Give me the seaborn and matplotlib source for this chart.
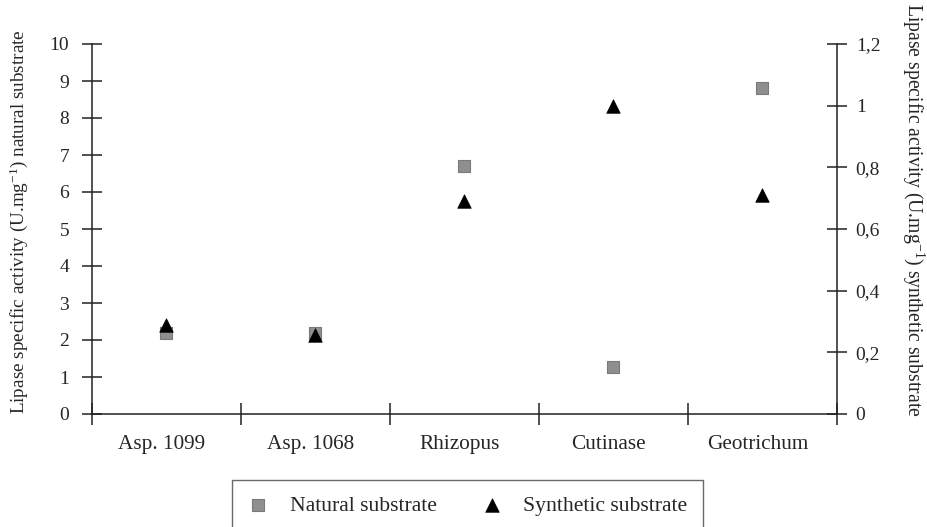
import matplotlib
matplotlib.use("Agg")
import matplotlib.pyplot as plt
import matplotlib.transforms as mtransforms
import seaborn as sns
import pandas as pd

# data
lipases = ["Asp. 1099", "Asp. 1068", "Rhizopus", "Cutinase", "Geotrichum"]
natural = [2.2, 2.2, 6.7, 1.27, 8.8]        # left axis
synthetic = [0.29, 0.255, 0.69, 1.0, 0.71]  # right axis
left_ticks = [0, 1, 2, 3, 4, 5, 6, 7, 8, 9, 10]
right_ticks = [0, 0.2, 0.4, 0.6, 0.8, 1.0, 1.2]
right_labels = ["0", "0,2", "0,4", "0,6", "0,8", "1", "1,2"]

df = pd.DataFrame({"lipase": lipases, "natural": natural, "synthetic": synthetic})
df["pos"] = range(len(lipases))

sns.set_style("ticks")
plt.rcParams["font.family"] = ["Liberation Serif", "DejaVu Serif"]
plt.rcParams["mathtext.fontset"] = "custom"
plt.rcParams["mathtext.rm"] = "Liberation Serif"
plt.rcParams["mathtext.it"] = "Liberation Serif:italic"

fig = plt.figure(figsize=(9.28, 5.27), dpi=100)
ax = fig.add_axes([92 / 928, 1 - 414 / 527, (837 - 92) / 928, (414 - 44) / 527])
ax2 = ax.twinx()

line_col = "#222222"

sns.scatterplot(data=df, x="pos", y="natural", ax=ax, marker="s", s=72,
                color="#8f8f8f", edgecolor="#7a7a7a", linewidth=0.8,
                label="Natural substrate", legend=False, zorder=3)
sns.scatterplot(data=df, x="pos", y="synthetic", ax=ax2, marker="^", s=95,
                color="black", edgecolor="black", linewidth=0.5,
                label="Synthetic substrate", legend=False, zorder=4)

ax.set_xlim(-0.5, len(lipases) - 0.5)
ax.set_ylim(0, 10)
ax2.set_ylim(0, 1.2)

ax.set_yticks(left_ticks)
ax.set_yticklabels([str(t) for t in left_ticks], fontsize=14)
ax2.set_yticks(right_ticks)
ax2.set_yticklabels(right_labels, fontsize=14)

ax.set_xticks(range(len(lipases)))
ax.set_xticklabels(lipases, fontsize=15.3)
ax.set_xticks([i - 0.5 for i in range(len(lipases) + 1)], minor=True)
ax.tick_params(axis="x", which="major", length=0, pad=15)
ax.tick_params(axis="x", which="minor", length=16, width=1.1,
               direction="inout", color=line_col)
ax.tick_params(axis="y", length=15, width=1.1, direction="inout",
               color=line_col, pad=9)
ax2.tick_params(axis="y", length=15, width=1.1, direction="inout",
                color=line_col, pad=6)

# labels sit a few pixels left of the markers in the original
shift = mtransforms.ScaledTranslation(-5 / 100, 0, fig.dpi_scale_trans)
for tick in ax.xaxis.get_major_ticks():
    tick.label1.set_transform(tick.label1.get_transform() + shift)

for a in (ax, ax2):
    a.spines["top"].set_visible(False)
    for s in a.spines.values():
        s.set_linewidth(1.1)
        s.set_color(line_col)
ax.spines["right"].set_visible(False)
ax2.spines["left"].set_visible(False)
ax2.spines["bottom"].set_visible(False)

ax.set_xlabel("")
ax.set_ylabel("Lipase specific activity (U.mg$^{-1}$) natural substrate",
              fontsize=13.8, va="center")
ax.yaxis.set_label_coords(-(92 - 19) / 745, 0.519)
ax2.set_ylabel("Lipase specific activity (U.mg$^{-1}$) synthetic substrate",
               fontsize=14.2, rotation=270, va="center")
ax2.yaxis.set_label_coords(1 + (913 - 837) / 745, 0.551)

h1, l1 = ax.get_legend_handles_labels()
h2, l2 = ax2.get_legend_handles_labels()
leg = fig.legend(h1 + h2, l1 + l2, loc="upper left",
                 bbox_to_anchor=(232 / 928, 1 - 480 / 527), ncols=2,
                 fontsize=15.6, frameon=True, fancybox=False, borderaxespad=0,
                 markerscale=1.0, handletextpad=0.95, columnspacing=2.05,
                 borderpad=0.72, handlelength=1.0)
leg.get_frame().set_edgecolor("#444444")
leg.get_frame().set_linewidth(1.0)

fig.savefig("out.png", dpi=100)
